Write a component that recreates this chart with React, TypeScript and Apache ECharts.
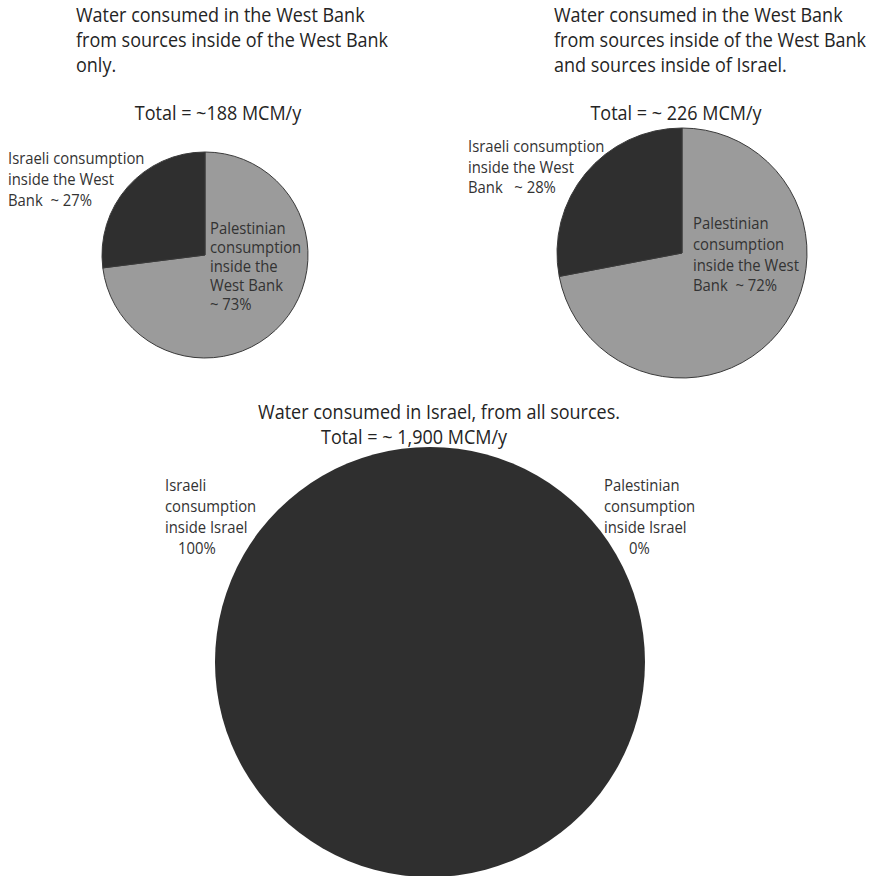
import React, { useEffect, useRef } from "react";
import * as echarts from "echarts";

// ---- Data ----
const sliceNames = ["Palestinian consumption", "Israeli consumption"];
const westBankOnlyShares = [73, 27]; // % of ~188 MCM/y
const westBankAllShares = [72, 28]; // % of ~226 MCM/y
const israelShares = [0, 100]; // % of ~1,900 MCM/y
const totalsMCM = ["~188", "~ 226", "~ 1,900"];

const DARK = "#2f2f2f";
const LIGHT = "#9b9b9b";
const TITLE_COLOR = "#242424";
const LABEL_COLOR = "#333333";
const FONT = '"Open Sans", "Noto Sans", sans-serif';
const SQUEEZE = 0.9;

function textLines(
  arr: string[],
  x: number,
  y: number,
  lh: number,
  size: number,
  align: string = "left",
  color: string = LABEL_COLOR
) {
  return arr.map((t, i) => ({
    type: "text",
    x,
    y: y + i * lh,
    z: 100,
    zlevel: 0,
    scaleX: SQUEEZE,
    silent: true,
    style: {
      text: t,
      fill: color,
      fontSize: size,
      fontFamily: FONT,
      align,
      verticalAlign: "middle",
      textAlign: align,
      textVerticalAlign: "middle",
    },
  }));
}

function pieData(values: number[]) {
  return sliceNames.map((n, i) => ({
    name: n,
    value: values[i],
    itemStyle: { color: i === 0 ? LIGHT : DARK },
  }));
}

export default function App() {
  const ref = useRef<HTMLDivElement>(null);
  useEffect(() => {
    if (!ref.current) return;
    const chart = echarts.init(ref.current, undefined, { renderer: "svg" });
    const baseSeries = {
      type: "pie",
      startAngle: 90,
      clockwise: true,
      silent: true,
      z: 1,
      label: { show: false },
      labelLine: { show: false },
      emphasis: { disabled: true },
    };
    const graphics = [
      ...textLines(
        [
          "Water consumed in the West Bank",
          "from sources inside of the West Bank",
          "only.",
        ],
        76, 15, 25, 20, "left", TITLE_COLOR
      ),
      ...textLines([`Total = ${totalsMCM[0]} MCM/y`], 218, 113, 25, 20, "center", TITLE_COLOR),
      ...textLines(
        [
          "Water consumed in the West Bank",
          "from sources inside of the West Bank",
          "and sources inside of Israel.",
        ],
        554, 15, 25, 20, "left", TITLE_COLOR
      ),
      ...textLines([`Total = ${totalsMCM[1]} MCM/y`], 676, 113, 25, 20, "center", TITLE_COLOR),
      ...textLines(
        ["Israeli consumption", "inside the West", `Bank  ~ ${westBankOnlyShares[1]}%`],
        8, 158, 21, 16.5
      ),
      ...textLines(
        ["Palestinian", "consumption", "inside the", "West Bank", `~ ${westBankOnlyShares[0]}%`],
        210, 228, 19, 16.5
      ),
      ...textLines(
        ["Israeli consumption", "inside the West", `Bank   ~ ${westBankAllShares[1]}%`],
        468, 146, 20.5, 16.5
      ),
      ...textLines(
        ["Palestinian", "consumption", "inside the West", `Bank  ~ ${westBankAllShares[0]}%`],
        693, 223, 20.7, 16.5
      ),
      ...textLines(["Water consumed in Israel, from all sources."], 439, 412, 25, 20, "center", TITLE_COLOR),
      ...textLines([`Total = ${totalsMCM[2]} MCM/y`], 414, 437, 25, 20, "center", TITLE_COLOR),
      ...textLines(["Israeli", "consumption", "inside Israel"], 165, 485, 21, 16.5),
      ...textLines([`${israelShares[1]}%`], 178, 548, 21, 16.5),
      ...textLines(["Palestinian", "consumption", "inside Israel"], 604, 485, 21, 16.5),
      ...textLines([`${israelShares[0]}%`], 629, 548, 21, 16.5),
    ];
    chart.setOption({
      animation: false,
      backgroundColor: "#ffffff",
      series: [
        {
          ...baseSeries,
          center: [205, 255],
          radius: 103,
          itemStyle: { borderColor: "#3a3a3a", borderWidth: 1 },
          data: pieData(westBankOnlyShares),
        },
        {
          ...baseSeries,
          center: [682, 253],
          radius: 125,
          itemStyle: { borderColor: "#3a3a3a", borderWidth: 1 },
          data: pieData(westBankAllShares),
        },
        {
          ...baseSeries,
          center: [430, 662],
          radius: 215,
          itemStyle: { borderWidth: 0 },
          data: pieData(israelShares),
        },
      ],
      graphic: { elements: graphics },
    });
    return () => chart.dispose();
  }, []);
  return (
    <div
      ref={ref}
      style={{ position: "absolute", left: 0, top: 0, width: 871, height: 876 }}
    />
  );
}
